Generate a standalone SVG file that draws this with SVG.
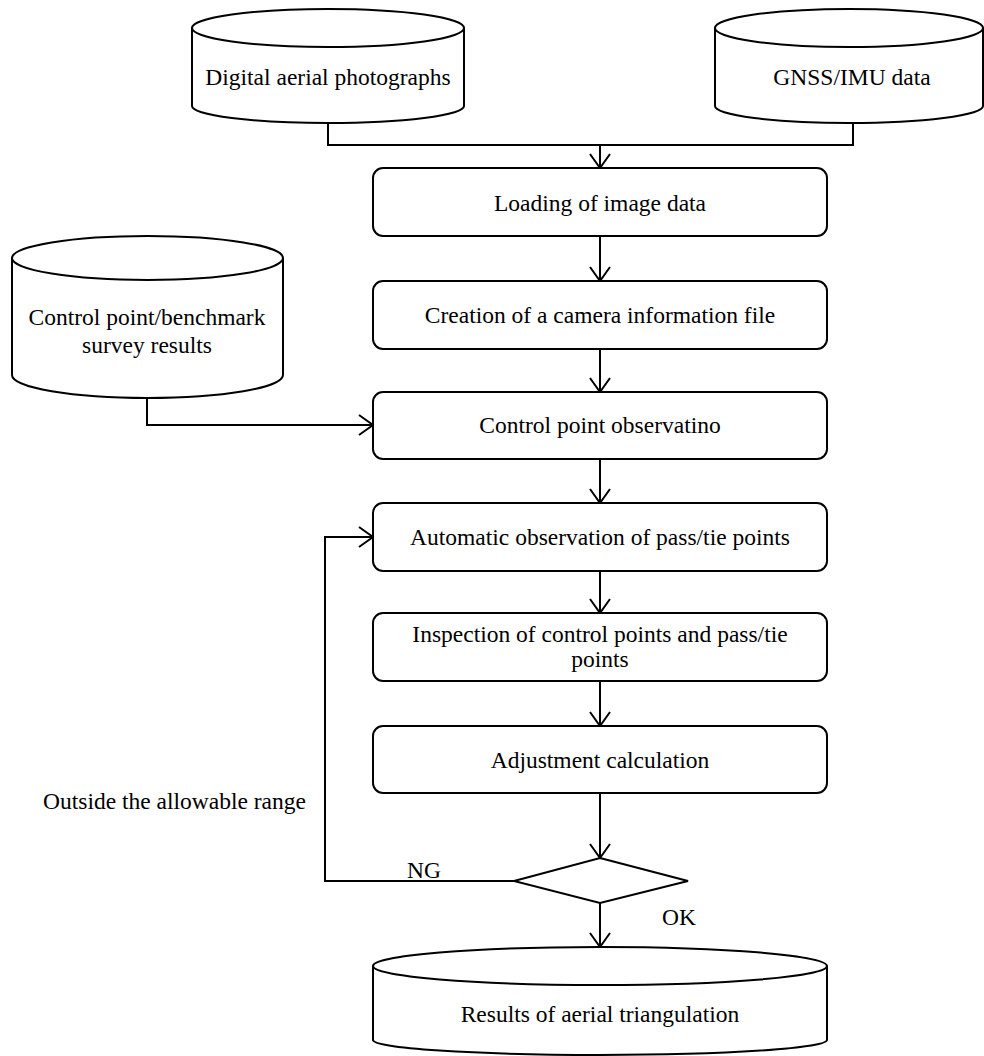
<svg xmlns="http://www.w3.org/2000/svg" width="984" height="1056" viewBox="0 0 984 1056">
<style>
.s{fill:#fff;stroke:#000;stroke-width:2}
.l{fill:none;stroke:#000;stroke-width:2}
.t{font-family:"Liberation Serif","Times New Roman",serif;font-size:23.5px;fill:#000;text-anchor:middle}
.ts{font-family:"Liberation Serif","Times New Roman",serif;font-size:23.5px;fill:#000}
</style>
<defs>
<marker id="a" viewBox="0 0 16 22" refX="15" refY="11" markerWidth="16" markerHeight="22" markerUnits="userSpaceOnUse" orient="auto">
<path d="M1,1 L15,11 L1,21" fill="none" stroke="#000" stroke-width="2"/>
</marker>
</defs>
<rect width="984" height="1056" fill="#fff"/>
<g id="connectors">
<polyline class="l" points="328,123 328,145 853,145 853,123"/>
<line class="l" x1="600" y1="145" x2="600" y2="168" marker-end="url(#a)"/>
<line class="l" x1="600" y1="236" x2="600" y2="281" marker-end="url(#a)"/>
<line class="l" x1="600" y1="349" x2="600" y2="392" marker-end="url(#a)"/>
<polyline class="l" points="147,398 147,425 373,425" marker-end="url(#a)"/>
<line class="l" x1="600" y1="459" x2="600" y2="503" marker-end="url(#a)"/>
<line class="l" x1="600" y1="571" x2="600" y2="613" marker-end="url(#a)"/>
<line class="l" x1="600" y1="681" x2="600" y2="726" marker-end="url(#a)"/>
<line class="l" x1="600" y1="793" x2="600" y2="858" marker-end="url(#a)"/>
<polyline class="l" points="514,881 325,881 325,537 373,537" marker-end="url(#a)"/>
<line class="l" x1="600" y1="903" x2="600" y2="947" marker-end="url(#a)"/>
<text class="ts" x="407" y="878">NG</text>
<text class="ts" x="662" y="925">OK</text>
<text class="ts" x="43" y="809">Outside the allowable range</text>
</g>
<g id="digital">
<path class="s" d="M192,28 L192,106 A136,17 0 0 0 464,106 L464,28"/>
<ellipse class="s" cx="328" cy="28" rx="136" ry="19"/>
<text class="t" x="328" y="85">Digital aerial photographs</text>
</g>
<g id="gnss">
<path class="s" d="M715,28 L715,106 A134,17 0 0 0 983,106 L983,28"/>
<ellipse class="s" cx="849" cy="28" rx="134" ry="19"/>
<text class="t" x="852" y="85">GNSS/IMU data</text>
</g>
<g id="control">
<path class="s" d="M12,258 L12,375 A135.5,23 0 0 0 283,375 L283,258"/>
<ellipse class="s" cx="147.5" cy="258" rx="135.5" ry="22"/>
<text class="t" x="147" y="325">Control point/benchmark</text>
<text class="t" x="147" y="353">survey results</text>
</g>
<g id="loading">
<rect class="s" x="373" y="168" width="454" height="68" rx="10"/>
<text class="t" x="600" y="211">Loading of image data</text>
</g>
<g id="camera">
<rect class="s" x="373" y="281" width="454" height="68" rx="10"/>
<text class="t" x="600" y="323">Creation of a camera information file</text>
</g>
<g id="cpobs">
<rect class="s" x="373" y="392" width="454" height="67" rx="10"/>
<text class="t" x="600" y="433">Control point observatino</text>
</g>
<g id="auto">
<rect class="s" x="373" y="503" width="454" height="68" rx="10"/>
<text class="t" x="600" y="545">Automatic observation of pass/tie points</text>
</g>
<g id="inspect">
<rect class="s" x="373" y="613" width="454" height="68" rx="10"/>
<text class="t" x="600" y="642">Inspection of control points and pass/tie</text>
<text class="t" x="600" y="667">points</text>
</g>
<g id="adjust">
<rect class="s" x="373" y="726" width="454" height="67" rx="10"/>
<text class="t" x="600" y="768">Adjustment calculation</text>
</g>
<g id="decision">
<polygon class="s" points="600,858 688,881 600,903 514,881"/>
</g>
<g id="results">
<path class="s" d="M373,966 L373,1040 A227,15 0 0 0 827,1040 L827,966"/>
<ellipse class="s" cx="600" cy="966" rx="227" ry="19"/>
<text class="t" x="600" y="1022">Results of aerial triangulation</text>
</g>
</svg>
